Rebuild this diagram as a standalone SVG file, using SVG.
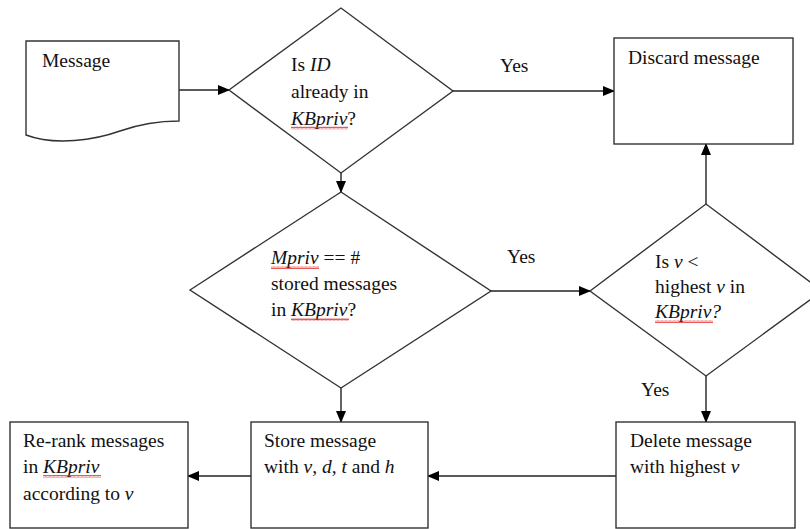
<svg xmlns="http://www.w3.org/2000/svg" width="810" height="529" viewBox="0 0 810 529">
<defs>
<style>
.shape{fill:#fff;stroke:#333;stroke-width:1.4}
.conn{fill:none;stroke:#222;stroke-width:1.4}
text{font-family:"Liberation Serif","Times New Roman",serif;font-size:19.5px;fill:#111}
.i{font-style:italic}
</style>
<marker id="ah" markerWidth="12" markerHeight="10" refX="11" refY="5" orient="auto" markerUnits="userSpaceOnUse">
<path d="M0,0 L12,5 L0,10 Z" fill="#000"/>
</marker>
<pattern id="wave" width="4" height="3" patternUnits="userSpaceOnUse">
<path d="M0,2.5 L1,0.5 L2,2.5 L3,0.5 L4,2.5" fill="none" stroke="#e03030" stroke-width="0.8"/>
</pattern>
</defs>
<rect width="810" height="529" fill="#fff"/>

<g id="connectors">
<line class="conn" x1="179" y1="90" x2="229" y2="90" marker-end="url(#ah)"/>
<line class="conn" x1="453" y1="91" x2="614" y2="91" marker-end="url(#ah)"/>
<line class="conn" x1="341" y1="173" x2="341" y2="192" marker-end="url(#ah)"/>
<line class="conn" x1="491" y1="291" x2="590" y2="291" marker-end="url(#ah)"/>
<line class="conn" x1="706" y1="204" x2="706" y2="144" marker-end="url(#ah)"/>
<line class="conn" x1="706" y1="376" x2="706" y2="422" marker-end="url(#ah)"/>
<line class="conn" x1="341" y1="388" x2="341" y2="422" marker-end="url(#ah)"/>
<line class="conn" x1="616" y1="476" x2="428" y2="476" marker-end="url(#ah)"/>
<line class="conn" x1="251" y1="476" x2="188" y2="476" marker-end="url(#ah)"/>
<text x="500" y="72">Yes</text>
<text x="507" y="263">Yes</text>
<text x="641" y="396">Yes</text>
</g>

<g id="message">
<path class="shape" d="M26,41 L179,41 L179,121 C160,121 140,124 120,131 C95,140 55,146 26,135 Z"/>
<text x="42" y="67">Message</text>
</g>

<g id="decision-id">
<polygon class="shape" points="229,90 341,8 453,91 341,173"/>
<text x="291" y="71">Is <tspan class="i">ID</tspan></text>
<text x="291" y="98">already in</text>
<text x="291" y="125"><tspan class="i">KBpriv</tspan>?</text>
<rect x="291" y="126.5" width="57" height="3" fill="url(#wave)"/>
</g>

<g id="discard">
<rect class="shape" x="614" y="38" width="179" height="106"/>
<text x="628" y="64">Discard message</text>
</g>

<g id="decision-full">
<polygon class="shape" points="190,290 341,192 491,291 341,388"/>
<text x="271" y="264"><tspan class="i">Mpriv</tspan> == #</text>
<text x="271" y="290">stored messages</text>
<text x="271" y="316">in <tspan class="i">KBpriv</tspan>?</text>
<rect x="271" y="266" width="48" height="3" fill="url(#wave)"/>
<rect x="291" y="318" width="58" height="3" fill="url(#wave)"/>
</g>

<g id="decision-v">
<polygon class="shape" points="590,291 706,204 822,291 706,376"/>
<text x="655" y="268">Is <tspan class="i">v</tspan> &lt;</text>
<text x="655" y="293">highest <tspan class="i">v</tspan> in</text>
<text x="655" y="318" class="i">KBpriv?</text>
<rect x="655" y="320" width="58" height="3" fill="url(#wave)"/>
</g>

<g id="delete">
<rect class="shape" x="616" y="422" width="179" height="106"/>
<text x="630" y="447">Delete message</text>
<text x="630" y="473">with highest  <tspan class="i">v</tspan></text>
</g>

<g id="store">
<rect class="shape" x="251" y="422" width="177" height="106"/>
<text x="264" y="447">Store message</text>
<text x="264" y="473">with <tspan class="i">v</tspan>, <tspan class="i">d</tspan>, <tspan class="i">t</tspan> and <tspan class="i">h</tspan></text>
</g>

<g id="rerank">
<rect class="shape" x="10" y="422" width="178" height="106"/>
<text x="23" y="447">Re-rank messages</text>
<text x="23" y="473">in <tspan class="i">KBpriv</tspan></text>
<text x="23" y="500">according to <tspan class="i">v</tspan></text>
<rect x="43" y="475" width="58" height="3" fill="url(#wave)"/>
</g>
</svg>
